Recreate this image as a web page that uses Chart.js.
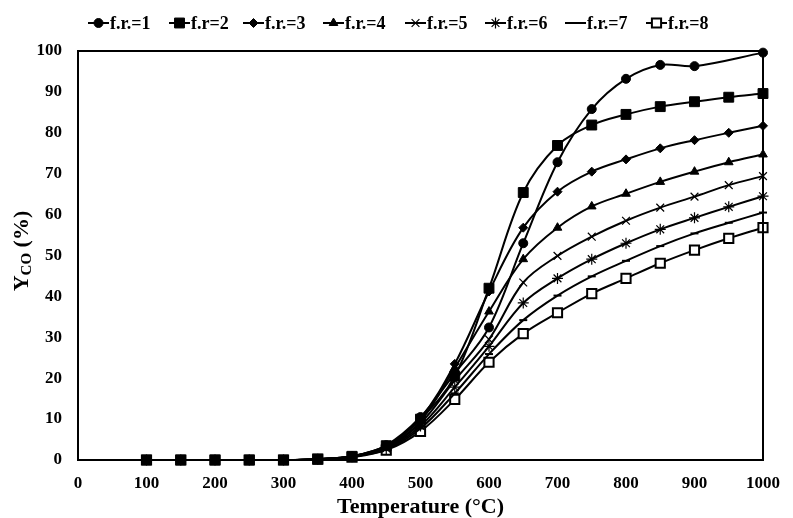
<!DOCTYPE html>
<html>
<head>
<meta charset="utf-8">
<script src="https://cdn.jsdelivr.net/npm/chart.js@4/dist/chart.umd.min.js"></script>
<style>
  html, body { margin: 0; padding: 0; background: #fff; }
</style>
</head>
<body>
<canvas id="yco" width="793" height="518"></canvas>
<script>
// ---------------- data ----------------
const temps = [100, 150, 200, 250, 300, 350, 400, 450, 500, 550, 600, 650, 700, 750, 800, 850, 900, 950, 1000];
const fr1 = [0, 0, 0, 0, 0, 0.2, 0.9, 3.6, 10.5, 21.2, 32.4, 53.0, 72.8, 85.8, 93.2, 96.6, 96.3, null, 99.6];
const fr2 = [0, 0, 0, 0, 0, 0.2, 0.9, 3.5, 10.0, 20.5, 42.0, 65.4, 76.9, 81.9, 84.5, 86.4, 87.6, 88.7, 89.6];
const fr3 = [0, 0, 0, 0, 0, 0.2, 0.9, 3.4, 10.2, 23.5, 41.2, 56.8, 65.6, 70.5, 73.5, 76.2, 78.2, 80.0, 81.7];
const fr4 = [0, 0, 0, 0, 0, 0.2, 0.9, 3.2, 9.5, 22.5, 36.3, 49.1, 56.8, 62.0, 65.1, 68.0, 70.5, 72.8, 74.7];
const fr5 = [0, 0, 0, 0, 0, 0.2, 0.8, 3.0, 9.0, 19.5, 29.5, 43.4, 49.9, 54.6, 58.5, 61.7, 64.4, 67.2, 69.4];
const fr6 = [0, 0, 0, 0, 0, 0.2, 0.8, 2.8, 8.3, 17.8, 27.8, 38.4, 44.4, 49.1, 53.0, 56.4, 59.2, 61.9, 64.5];
const fr7 = [0, 0, 0, 0, 0, 0.2, 0.8, 2.6, 7.7, 16.3, 25.9, 34.2, 40.2, 44.9, 48.7, 52.3, 55.4, 58.0, 60.5];
const fr8 = [0, 0, 0, 0, 0, 0.2, 0.7, 2.4, 7.0, 14.8, 23.9, 30.9, 36.0, 40.7, 44.4, 48.1, 51.3, 54.2, 56.8];
const seriesNames = ['f.r.=1', 'f.r=2', 'f.r.=3', 'f.r.=4', 'f.r.=5', 'f.r.=6', 'f.r.=7', 'f.r.=8'];
const xTicks = [0, 100, 200, 300, 400, 500, 600, 700, 800, 900, 1000];
const yTicks = [0, 10, 20, 30, 40, 50, 60, 70, 80, 90, 100];

const FONT = '"Liberation Serif", "Times New Roman", serif';

// marker look for each series
const markers = [
  { style: 'circle',   r: 4.5, fill: '#000', bw: 1 },
  { style: 'rect',     r: 7,   fill: '#000', bw: 1 },
  { style: 'rectRot',  r: 4.5, fill: '#000', bw: 1 },
  { style: 'triangle', r: 5,   fill: '#000', bw: 1 },
  { style: 'crossRot', r: 5.5, fill: '#000', bw: 1.2 },
  { style: 'star',     r: 5.5, fill: '#000', bw: 1.2 },
  { style: 'line',     r: 4,   fill: '#000', bw: 2 },
  { style: 'rect',     r: 6.5, fill: '#fff', bw: 2 }
];
// legend item start x
const legendX = [88, 169, 243, 323, 405, 485, 565, 646];

function toPoints(arr){
  const pts = [];
  temps.forEach((t, i) => { if(arr[i] !== null) pts.push({ x: t, y: arr[i] }); });
  return pts;
}

const datasets = [fr1, fr2, fr3, fr4, fr5, fr6, fr7, fr8].map((arr, i) => ({
  label: seriesNames[i],
  data: toPoints(arr),
  order: i === 1 ? -1 : 0,   // filled squares sit on top where the curves overlap
  borderColor: '#000',
  borderWidth: 2,
  tension: 0.35,
  fill: false,
  clip: false,
  pointStyle: markers[i].style,
  pointRadius: markers[i].r,
  pointBackgroundColor: markers[i].fill,
  pointBorderColor: '#000',
  pointBorderWidth: markers[i].bw
}));

// ---------------- extras: box, legend, titles ----------------
const extras = {
  id: 'extras',
  afterDraw(chart){
    const ctx = chart.ctx;
    const a = chart.chartArea;
    ctx.save();
    ctx.strokeStyle = '#000';
    ctx.lineWidth = 2;
    ctx.strokeRect(a.left, a.top, a.right - a.left, a.bottom - a.top);

    // legend
    ctx.font = 'bold 18px ' + FONT;
    ctx.textBaseline = 'middle';
    ctx.textAlign = 'left';
    const ly = 23;
    seriesNames.forEach((name, i) => {
      const x = legendX[i];
      ctx.strokeStyle = '#000';
      ctx.lineWidth = 2;
      ctx.beginPath();
      ctx.moveTo(x, ly);
      ctx.lineTo(x + 21, ly);
      ctx.stroke();
      ctx.fillStyle = markers[i].fill;
      ctx.lineWidth = markers[i].bw;
      Chart.helpers.drawPoint(ctx, {
        pointStyle: markers[i].style,
        radius: markers[i].r,
        rotation: 0,
        borderWidth: markers[i].bw
      }, x + 10.5, ly);
      ctx.fillStyle = '#000';
      ctx.fillText(name, x + 22, ly + 1);
    });

    // x title
    ctx.font = 'bold 22px ' + FONT;
    ctx.textAlign = 'center';
    ctx.fillText('Temperature (°C)', (a.left + a.right) / 2, 507);

    // y title with subscript
    ctx.translate(22, 251);
    ctx.rotate(-Math.PI / 2);
    ctx.textAlign = 'left';
    const big = 'bold 22px ' + FONT, small = 'bold 15px ' + FONT;
    ctx.font = big; const wY = ctx.measureText('Y').width;
    ctx.font = small; const wCO = ctx.measureText('CO').width;
    ctx.font = big; const wP = ctx.measureText(' (%)').width;
    let tx = -(wY + wCO + wP) / 2;
    ctx.font = big; ctx.fillText('Y', tx, 0); tx += wY;
    ctx.font = small; ctx.fillText('CO', tx, 5); tx += wCO;
    ctx.font = big; ctx.fillText(' (%)', tx, 0);
    ctx.restore();
  }
};

new Chart(document.getElementById('yco'), {
  type: 'line',
  data: { datasets: datasets },
  options: {
    responsive: false,
    animation: false,
    layout: { padding: { top: 51, right: 18, bottom: 0, left: 0 } },
    plugins: { legend: { display: false }, tooltip: { enabled: false } },
    scales: {
      x: {
        type: 'linear',
        min: 0, max: 1000,
        afterFit: s => { s.height = 58; },
        afterBuildTicks: s => { s.ticks = xTicks.map(v => ({ value: v })); },
        grid: { display: false, drawTicks: false },
        border: { display: false },
        ticks: { color: '#000', padding: 13, maxRotation: 0, callback: v => String(v),
                 font: { family: FONT, size: 17, weight: 'bold' } }
      },
      y: {
        min: 0, max: 100,
        afterFit: s => { s.width = 78; },
        afterBuildTicks: s => { s.ticks = yTicks.map(v => ({ value: v })); },
        grid: { display: false, drawTicks: false },
        border: { display: false },
        ticks: { color: '#000', padding: 16, callback: v => String(v),
                 font: { family: FONT, size: 17, weight: 'bold' } }
      }
    }
  },
  plugins: [extras]
});
</script>
</body>
</html>
